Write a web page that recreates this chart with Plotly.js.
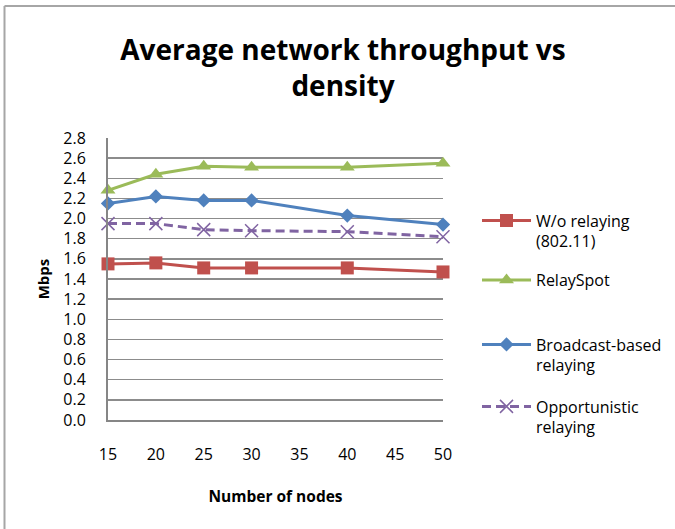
<!DOCTYPE html>
<html>
<head>
<meta charset="utf-8">
<script src="https://cdn.plot.ly/plotly-3.0.1.min.js"></script>
<style>html,body{margin:0;padding:0;background:#fff;}#chart{width:675px;height:529px;}</style>
</head>
<body>
<div id="chart"></div>
<script>
const nodes = [15, 20, 25, 30, 40, 50];
const woRelaying = [1.55, 1.56, 1.51, 1.51, 1.51, 1.47];
const relaySpot = [2.28, 2.44, 2.52, 2.51, 2.51, 2.55];
const broadcastRelaying = [2.15, 2.22, 2.18, 2.18, 2.03, 1.94];
const opportunisticRelaying = [1.95, 1.95, 1.89, 1.88, 1.87, 1.82];
const seriesNames = ['W/o relaying<br>(802.11)', 'RelaySpot', 'Broadcast-based<br>relaying', 'Opportunistic<br>relaying'];
const xTicks = [15, 20, 25, 30, 35, 40, 45, 50];
const yTicks = [0, 0.2, 0.4, 0.6, 0.8, 1.0, 1.2, 1.4, 1.6, 1.8, 2.0, 2.2, 2.4, 2.6, 2.8];

const FONT = '"Open Sans", sans-serif';

const traces = [
  {x: nodes, y: woRelaying, name: seriesNames[0], mode: 'lines+markers', cliponaxis: false, legend: 'legend',
   line: {color: '#C0504D', width: 3}, marker: {symbol: 'square', size: 13, color: '#C0504D'}},
  {x: nodes, y: relaySpot, name: seriesNames[1], mode: 'lines+markers', cliponaxis: false, legend: 'legend2',
   line: {color: '#9BBB59', width: 3}, marker: {symbol: 'triangle-up', size: 13, color: '#9BBB59'}},
  {x: nodes, y: broadcastRelaying, name: seriesNames[2], mode: 'lines+markers', cliponaxis: false, legend: 'legend3',
   line: {color: '#4F81BD', width: 3}, marker: {symbol: 'diamond', size: 11, color: '#4F81BD'}},
  {x: nodes, y: opportunisticRelaying, name: seriesNames[3], mode: 'lines+markers', cliponaxis: false, legend: 'legend4',
   line: {color: '#8064A2', width: 3, dash: '9px,5px'}, marker: {symbol: 'x-thin', size: 13, color: '#8064A2', line: {color: '#8064A2', width: 1.5}}}
];

const L = 108, R = 443, T = 138, B = 420, W = 675, H = 529;
const pw = R - L, ph = B - T;
const px = v => (v - L) / pw;
const py = v => (B - v) / ph;

function leg(yc) {
  return {x: px(477), y: py(yc), xanchor: 'left', yanchor: 'middle', xref: 'paper', yref: 'paper',
          bgcolor: 'rgba(0,0,0,0)', itemwidth: 49, valign: 'top', font: {family: FONT, size: 16, color: '#000'},
          tracegroupgap: 0, itemclick: false};
}

const layout = {
  width: W, height: H,
  margin: {l: L, r: W - R, t: T, b: H - B, pad: 0, autoexpand: false},
  paper_bgcolor: '#fff', plot_bgcolor: '#fff',
  font: {family: FONT, color: '#000'},
  title: {text: '<b>Average network throughput vs<br>density</b>', font: {family: FONT, size: 28, color: '#000'},
          xref: 'paper', x: px(343), xanchor: 'center', yref: 'container', y: 1 - 60 / H, yanchor: 'middle'},
  showlegend: true,
  legend: leg(231),
  legend2: leg(280),
  legend3: leg(355),
  legend4: leg(417),
  xaxis: {range: [15, 50], tickvals: xTicks, ticktext: xTicks.map(String), showgrid: false, zeroline: false,
          showline: true, linecolor: '#868686', linewidth: 2, ticks: '', ticklabelstandoff: 19, automargin: false,
          tickfont: {family: FONT, size: 16, color: '#000'},
          title: {text: '<b>Number of nodes</b>', font: {family: FONT, size: 15.5, color: '#000'}, standoff: 27}},
  yaxis: {range: [0, 2.8], tickvals: yTicks, ticktext: yTicks.map(v => v.toFixed(1)), showgrid: true, automargin: false,
          gridcolor: '#8c8c8c', gridwidth: 1.5, zeroline: false, showline: true, linecolor: '#868686', linewidth: 2,
          ticks: '', ticklabelstandoff: 17, tickfont: {family: FONT, size: 16, color: '#000'},
          title: {text: '<b>Mbps</b>', font: {family: FONT, size: 15, color: '#000'}, standoff: 10}},
  shapes: [
    {type: 'line', xref: 'paper', yref: 'paper', x0: px(4.5), x1: px(W + 5), y0: py(6), y1: py(6), line: {color: '#a6a6a6', width: 2}},
    {type: 'line', xref: 'paper', yref: 'paper', x0: px(4.5), x1: px(4.5), y0: py(6), y1: py(H + 5), line: {color: '#a6a6a6', width: 2}}
  ]
};

Plotly.newPlot('chart', traces, layout, {displayModeBar: false, staticPlot: true});
</script>
</body>
</html>
